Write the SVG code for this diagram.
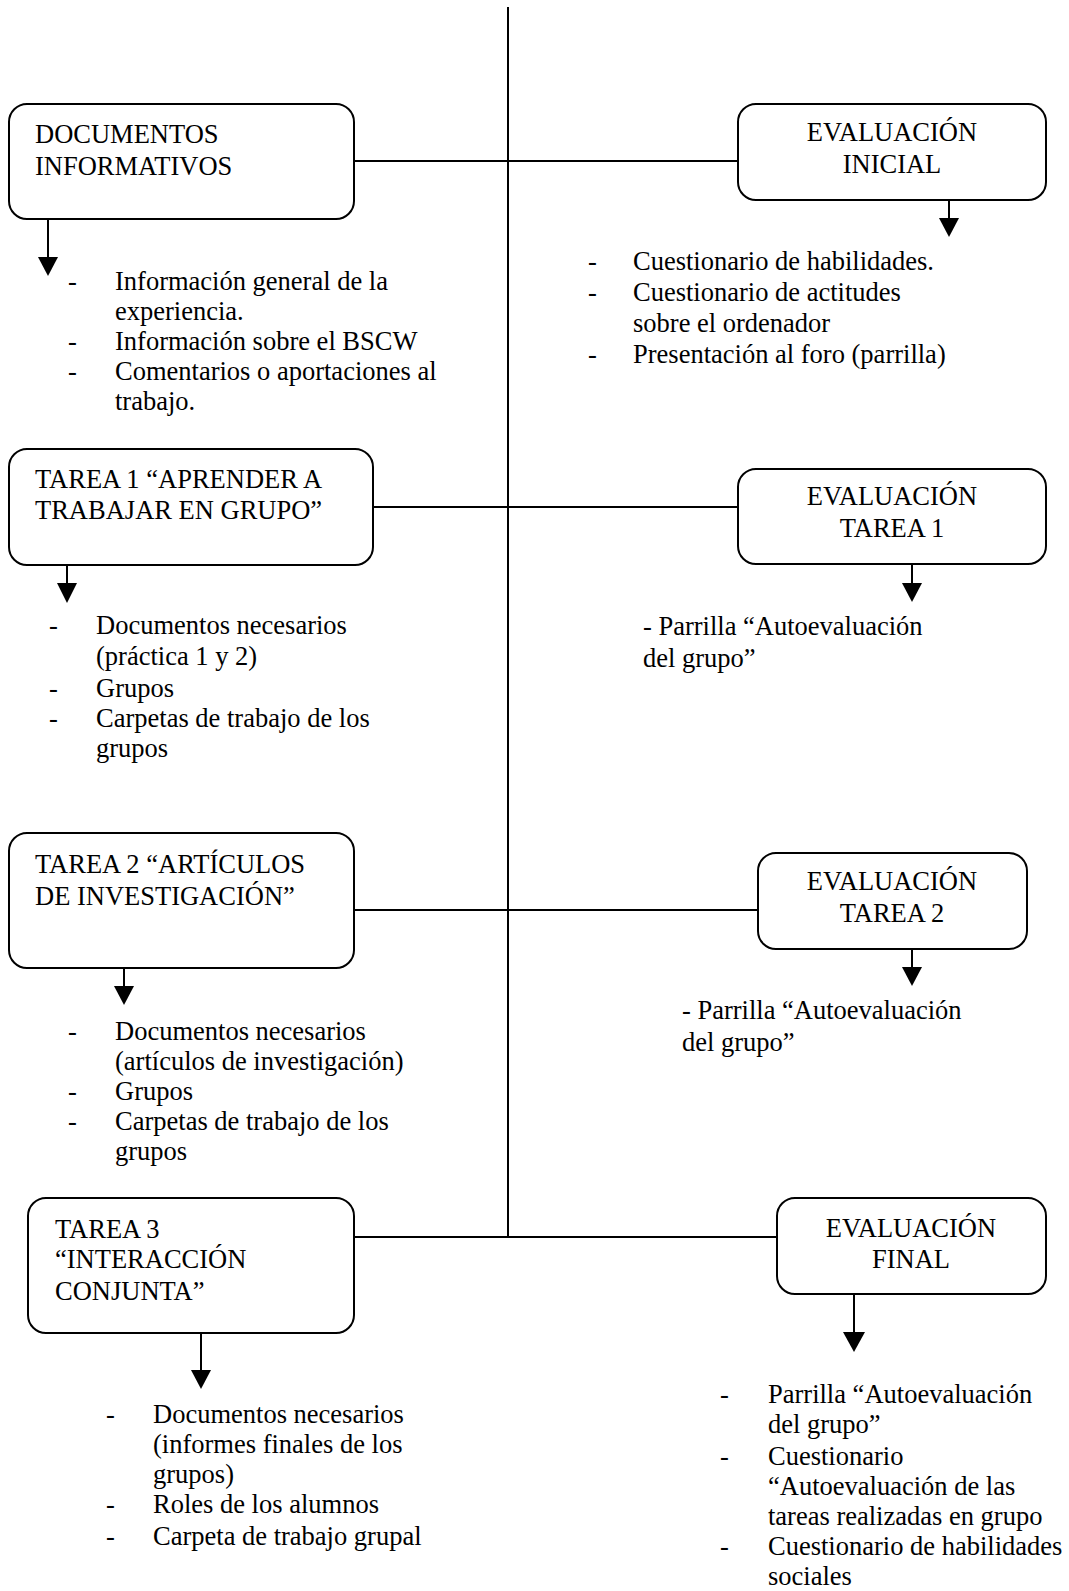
<svg xmlns="http://www.w3.org/2000/svg" width="1069" height="1591" viewBox="0 0 1069 1591">
<style>
  .box { fill: #ffffff; stroke: #000000; stroke-width: 2; }
  .ln { stroke: #000000; stroke-width: 2; fill: none; }
  .hd { fill: #000000; stroke: none; }
  text { font-family: "Liberation Serif", "Times New Roman", serif; font-size: 26.5px; fill: #000000; }
  .c { text-anchor: middle; }
</style>
<rect width="1069" height="1591" fill="#ffffff"/>
<g id="connectors">
  <line class="ln" x1="508" y1="7" x2="508" y2="1237"/>
  <line class="ln" x1="354" y1="161" x2="738" y2="161"/>
  <line class="ln" x1="373" y1="507" x2="738" y2="507"/>
  <line class="ln" x1="354" y1="910" x2="758" y2="910"/>
  <line class="ln" x1="354" y1="1237" x2="777" y2="1237"/>
  <line class="ln" x1="48" y1="219" x2="48" y2="258"/>
  <polygon class="hd" points="38,257 58,257 48,276"/>
  <line class="ln" x1="949" y1="200" x2="949" y2="219"/>
  <polygon class="hd" points="939,218 959,218 949,237"/>
  <line class="ln" x1="67" y1="565" x2="67" y2="584"/>
  <polygon class="hd" points="57,583 77,583 67,603"/>
  <line class="ln" x1="912" y1="564" x2="912" y2="584"/>
  <polygon class="hd" points="902,583 922,583 912,602"/>
  <line class="ln" x1="124" y1="968" x2="124" y2="987"/>
  <polygon class="hd" points="114,986 134,986 124,1005"/>
  <line class="ln" x1="912" y1="949" x2="912" y2="968"/>
  <polygon class="hd" points="902,967 922,967 912,986"/>
  <line class="ln" x1="201" y1="1333" x2="201" y2="1371"/>
  <polygon class="hd" points="191,1370 211,1370 201,1389"/>
  <line class="ln" x1="854" y1="1294" x2="854" y2="1333"/>
  <polygon class="hd" points="843,1332 865,1332 854,1352"/>
</g>
<g id="doc-informativos">
  <rect class="box" x="9" y="104" width="345" height="115" rx="18"/>
  <text x="35" y="143">DOCUMENTOS</text>
  <text x="35" y="175">INFORMATIVOS</text>
</g>
<g id="doc-items">
  <text x="68" y="290">-</text><text x="115" y="290">Información general de la</text>
  <text x="115" y="320">experiencia.</text>
  <text x="68" y="350">-</text><text x="115" y="350">Información sobre el BSCW</text>
  <text x="68" y="380">-</text><text x="115" y="380">Comentarios o aportaciones al</text>
  <text x="115" y="410">trabajo.</text>
</g>
<g id="eval-inicial">
  <rect class="box" x="738" y="104" width="308" height="96" rx="18"/>
  <text class="c" x="892" y="141">EVALUACIÓN</text>
  <text class="c" x="892" y="173">INICIAL</text>
</g>
<g id="eval-inicial-items">
  <text x="588" y="270">-</text><text x="633" y="270">Cuestionario de habilidades.</text>
  <text x="588" y="301">-</text><text x="633" y="301">Cuestionario de actitudes</text>
  <text x="633" y="332">sobre el ordenador</text>
  <text x="588" y="363">-</text><text x="633" y="363">Presentación al foro (parrilla)</text>
</g>
<g id="tarea1">
  <rect class="box" x="9" y="449" width="364" height="116" rx="18"/>
  <text x="35" y="488">TAREA 1 “APRENDER A</text>
  <text x="35" y="519">TRABAJAR EN GRUPO”</text>
</g>
<g id="tarea1-items">
  <text x="49" y="634">-</text><text x="96" y="634">Documentos necesarios</text>
  <text x="96" y="665">(práctica 1 y 2)</text>
  <text x="49" y="697">-</text><text x="96" y="697">Grupos</text>
  <text x="49" y="727">-</text><text x="96" y="727">Carpetas de trabajo de los</text>
  <text x="96" y="757">grupos</text>
</g>
<g id="eval-tarea1">
  <rect class="box" x="738" y="469" width="308" height="95" rx="18"/>
  <text class="c" x="892" y="505">EVALUACIÓN</text>
  <text class="c" x="892" y="537">TAREA 1</text>
</g>
<g id="eval-tarea1-items">
  <text x="643" y="635">- Parrilla “Autoevaluación</text>
  <text x="643" y="667">del grupo”</text>
</g>
<g id="tarea2">
  <rect class="box" x="9" y="833" width="345" height="135" rx="18"/>
  <text x="35" y="873">TAREA 2 “ARTÍCULOS</text>
  <text x="35" y="905">DE INVESTIGACIÓN”</text>
</g>
<g id="tarea2-items">
  <text x="68" y="1040">-</text><text x="115" y="1040">Documentos necesarios</text>
  <text x="115" y="1070">(artículos de investigación)</text>
  <text x="68" y="1100">-</text><text x="115" y="1100">Grupos</text>
  <text x="68" y="1130">-</text><text x="115" y="1130">Carpetas de trabajo de los</text>
  <text x="115" y="1160">grupos</text>
</g>
<g id="eval-tarea2">
  <rect class="box" x="758" y="853" width="269" height="96" rx="18"/>
  <text class="c" x="892" y="890">EVALUACIÓN</text>
  <text class="c" x="892" y="922">TAREA 2</text>
</g>
<g id="eval-tarea2-items">
  <text x="682" y="1019">- Parrilla “Autoevaluación</text>
  <text x="682" y="1051">del grupo”</text>
</g>
<g id="tarea3">
  <rect class="box" x="28" y="1198" width="326" height="135" rx="18"/>
  <text x="55" y="1238">TAREA 3</text>
  <text x="55" y="1268">“INTERACCIÓN</text>
  <text x="55" y="1300">CONJUNTA”</text>
</g>
<g id="tarea3-items">
  <text x="106" y="1423">-</text><text x="153" y="1423">Documentos necesarios</text>
  <text x="153" y="1453">(informes finales de los</text>
  <text x="153" y="1483">grupos)</text>
  <text x="106" y="1513">-</text><text x="153" y="1513">Roles de los alumnos</text>
  <text x="106" y="1545">-</text><text x="153" y="1545">Carpeta de trabajo grupal</text>
</g>
<g id="eval-final">
  <rect class="box" x="777" y="1198" width="269" height="96" rx="18"/>
  <text class="c" x="911" y="1237">EVALUACIÓN</text>
  <text class="c" x="911" y="1268">FINAL</text>
</g>
<g id="eval-final-items">
  <text x="720" y="1403">-</text><text x="768" y="1403">Parrilla “Autoevaluación</text>
  <text x="768" y="1433">del grupo”</text>
  <text x="720" y="1465">-</text><text x="768" y="1465">Cuestionario</text>
  <text x="768" y="1495">“Autoevaluación de las</text>
  <text x="768" y="1525">tareas realizadas en grupo</text>
  <text x="720" y="1555">-</text><text x="768" y="1555">Cuestionario de habilidades</text>
  <text x="768" y="1585">sociales</text>
</g>
</svg>
